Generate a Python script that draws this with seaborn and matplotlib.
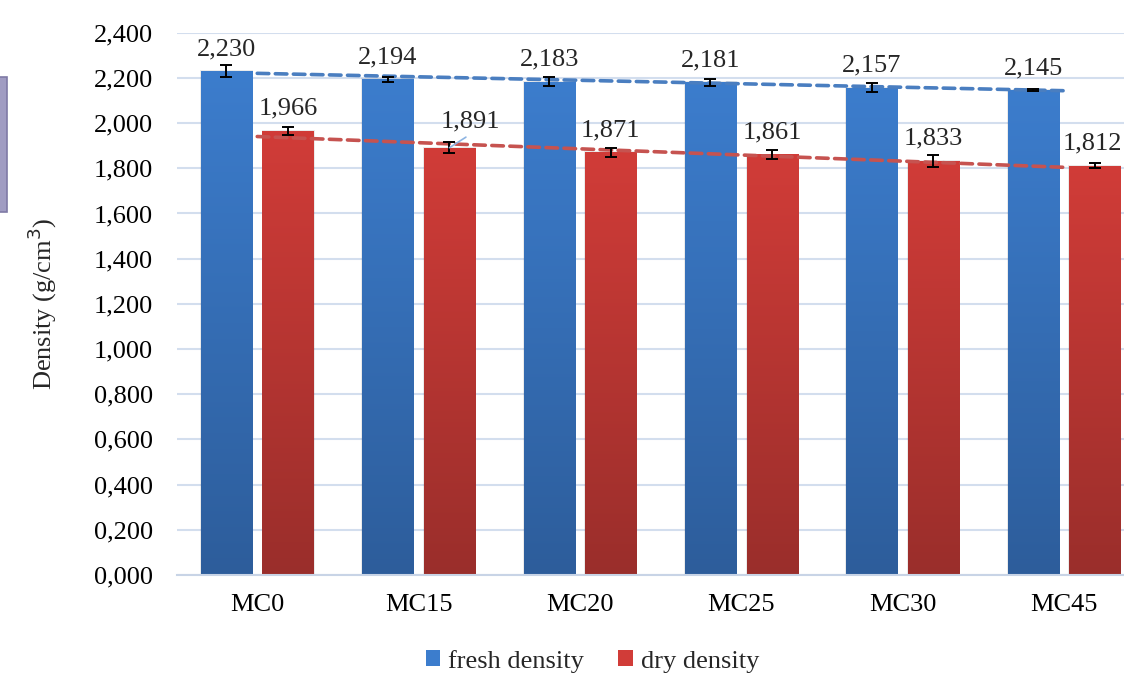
import numpy as np
import pandas as pd
import matplotlib
matplotlib.use("Agg")
import matplotlib.pyplot as plt
import seaborn as sns
from matplotlib.colors import LinearSegmentedColormap
from matplotlib.patches import Rectangle, Patch
from matplotlib.ticker import FuncFormatter

# chart data
mixes = ["MC0", "MC15", "MC20", "MC25", "MC30", "MC45"]
fresh_density = [2.230, 2.194, 2.183, 2.181, 2.157, 2.145]
dry_density = [1.966, 1.891, 1.871, 1.861, 1.833, 1.812]
fresh_err = [0.026, 0.011, 0.020, 0.015, 0.020, 0.005]
dry_err = [0.018, 0.025, 0.020, 0.020, 0.026, 0.013]
series_names = ["fresh density", "dry density"]

df = pd.DataFrame({
    "mix": mixes * 2,
    "series": [series_names[0]] * len(mixes) + [series_names[1]] * len(mixes),
    "density": fresh_density + dry_density,
})

sns.set_theme(style="white")
plt.rcParams["font.family"] = ["Liberation Serif", "DejaVu Serif"]

fig = plt.figure(figsize=(11.24, 6.74), dpi=100)
ax = fig.add_axes([0.1571, 0.1469, 0.8613, 0.8046])

grads = {
    series_names[0]: ("#3C7DCD", "#2D5D9B"),
    series_names[1]: ("#D13C38", "#9A2E2B"),
}
trend_colors = {series_names[0]: "#4A7EC0", series_names[1]: "#C65350"}

sns.barplot(data=df, x="mix", y="density", hue="series", order=mixes,
            hue_order=series_names, palette=[grads[s][0] for s in series_names],
            width=0.764, gap=0.17, errorbar=None, legend=False, ax=ax)

# gradient fill + shadow for each bar
n = len(mixes)
for i, p in enumerate(ax.patches[:2 * n]):
    s = series_names[i // n]
    top, bot = grads[s]
    x0, y0 = p.get_x(), p.get_y()
    w, h = p.get_width(), p.get_height()
    shadow = Rectangle((x0 - 0.006, y0), w + 0.012, h + 0.004, facecolor="#000000",
                       alpha=0.08, edgecolor="none", zorder=1.5)
    ax.add_patch(shadow)
    cmap = LinearSegmentedColormap.from_list("g", [bot, top])
    grad = np.linspace(0, 1, 256).reshape(-1, 1)
    im = ax.imshow(grad, cmap=cmap, extent=[x0, x0 + w, y0, y0 + h],
                   origin="lower", aspect="auto", zorder=2)
    im.set_clip_path(p)
    p.set_facecolor("none")
    p.set_edgecolor("none")
    p.set_zorder(2)

ax.set_ylim(0, 2.4)
ax.set_xlim(-0.5, len(mixes) - 0.5)

# error bars and data labels
for k, (vals, errs) in enumerate([(fresh_density, fresh_err), (dry_density, dry_err)]):
    for j in range(n):
        p = ax.patches[k * n + j]
        cx = p.get_x() + p.get_width() / 2
        ax.errorbar(cx, vals[j], yerr=errs[j], fmt="none", ecolor="black",
                    elinewidth=1.4, capsize=4.3, capthick=1.4, zorder=4)
        lbl = f"{vals[j]:.3f}".replace(".", ",")
        if k == 1 and j == 1:
            ax.annotate(lbl, xy=(cx, vals[j]), xytext=(cx + 0.13, vals[j] + 0.09),
                        ha="center", va="baseline", fontsize=19, zorder=5,
                        arrowprops=dict(arrowstyle="-", color="#8DB4E2", lw=1.2,
                                        shrinkA=2, shrinkB=0,
                                        relpos=(0.55, 0.0)))
        else:
            dx = -1.5 if (k == 1 and j == n - 1) else 0
            ax.annotate(lbl, xy=(cx, vals[j]), xytext=(dx, 11.5),
                        textcoords="offset points", ha="center", va="baseline",
                        fontsize=19, zorder=5)

# linear trend lines across categories
xs = np.arange(n)
for s, vals in zip(series_names, [fresh_density, dry_density]):
    slope, icpt = np.polyfit(xs, vals, 1)
    ax.plot(xs, slope * xs + icpt, linestyle=(0, (3.2, 1.8)), color=trend_colors[s],
            lw=2.6, dash_capstyle="round", zorder=3)

# axes styling
ax.yaxis.set_major_locator(plt.MultipleLocator(0.2))
ax.yaxis.set_major_formatter(FuncFormatter(lambda v, _: f"{v:.3f}".replace(".", ",")))
ax.grid(axis="y", color="#D3DEEE", lw=1.5)
ax.set_axisbelow(True)
for side in ["left", "right", "top"]:
    ax.spines[side].set_visible(False)
ax.spines["bottom"].set_color("#C8D4E6")
ax.spines["bottom"].set_linewidth(1.5)
ax.tick_params(axis="y", length=0, pad=17, labelsize=19, labelcolor="black")
ax.tick_params(axis="x", length=0, pad=14, labelsize=19, labelcolor="black")
ax.set_xlabel("")
ax.set_ylabel("")
fig.text(0.038, 0.549, "Density (g/cm$^3$)", rotation=90, ha="center", va="center",
         fontsize=19, fontfamily="Liberation Serif")

# legend at bottom
handles = [Patch(facecolor=grads[s][0], edgecolor="none") for s in series_names]
fig.legend(handles, series_names, loc="center", bbox_to_anchor=(0.527, 0.019),
           ncol=2, frameon=False, fontsize=19, handlelength=0.55, handleheight=0.55,
           handletextpad=0.3, columnspacing=1.3)

# partial shape at the left edge
fig.patches.append(Rectangle((-0.01, (674 - 212) / 674), 0.016, 135 / 674,
                             transform=fig.transFigure, facecolor="#A09CC2",
                             edgecolor="#7F7AA6", lw=1.2, figure=fig))

fig.savefig("out.png", dpi=100)
